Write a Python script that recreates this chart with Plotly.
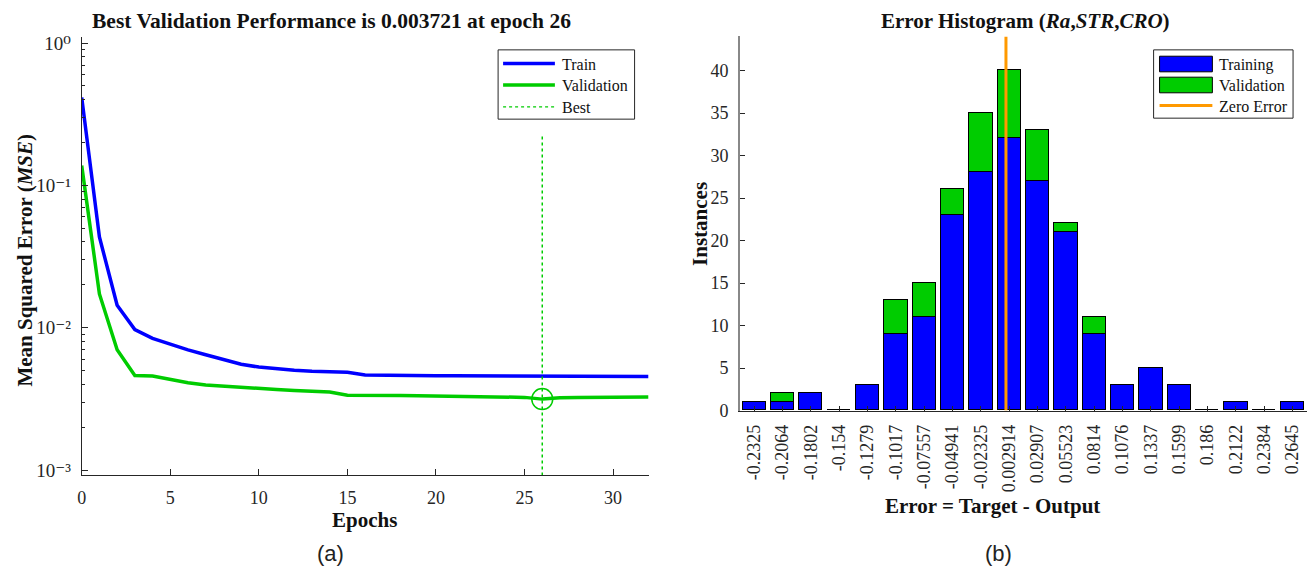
import plotly.graph_objects as go

# ---------------- data ----------------
epochs = list(range(33))
train_mse = [0.415, 0.0434, 0.01438, 0.00969, 0.00841, 0.00764, 0.00699, 0.00646,
             0.00597, 0.00554, 0.00529, 0.00512, 0.00502, 0.00494, 0.00489, 0.00486,
             0.00466, 0.00463, 0.00462, 0.00461, 0.00460, 0.00459, 0.00458, 0.00457,
             0.00457, 0.00456, 0.00456, 0.00454, 0.00454, 0.00454, 0.00454, 0.00454,
             0.00454]
val_mse = [0.1377, 0.01726, 0.00699, 0.00462, 0.00457, 0.00431, 0.00411, 0.00396,
           0.00388, 0.00378, 0.00374, 0.00368, 0.00362, 0.00359, 0.00353, 0.00335,
           0.00336, 0.00335, 0.00334, 0.00333, 0.00331, 0.00330, 0.00329, 0.00327,
           0.00325, 0.00324, 0.00315, 0.00322, 0.00324, 0.00325, 0.00326, 0.00326,
           0.00326]
best_epoch = 26
best_text = "0.003721"

mse_tickvals = [1e-3, 1e-2, 1e-1, 1]
mse_ticktext = ["10\u207b\u00b3", "10\u207b\u00b2", "10\u207b\u00b9", "10\u2070"]

bin_labels = ["-0.2325", "-0.2064", "-0.1802", "-0.154", "-0.1279", "-0.1017",
              "-0.07557", "-0.04941", "-0.02325", "0.002914", "0.02907", "0.05523",
              "0.0814", "0.1076", "0.1337", "0.1599", "0.186", "0.2122", "0.2384",
              "0.2645"]
train_counts = [1, 1, 2, 0, 3, 9, 11, 23, 28, 32, 27, 21, 9, 3, 5, 3, 0, 1, 0, 1]
val_counts = [0, 1, 0, 0, 0, 4, 4, 3, 7, 8, 6, 1, 2, 0, 0, 0, 0, 0, 0, 0]

# ---------------- styling ----------------
W, H = 1309, 579
BLUE = "#0000FF"
GREEN = "#00CC00"
ORANGE = "#FF9900"
AX = "#262626"
SERIF = "Liberation Serif, DejaVu Serif, Times New Roman, serif"
SANS = "Liberation Sans, Arial, sans-serif"


def px(x):
    return x / W


def py(y):
    return 1 - y / H


def ital(s, size):
    return '<span style="font-style:italic;font-size:%dpx">%s</span>' % (size, s)


bin_centers = [float(s) for s in bin_labels]
bin_w = (bin_centers[-1] - bin_centers[0]) / (len(bin_centers) - 1)

fig = go.Figure()

# ---------------- (a) performance curves ----------------
fig.add_trace(go.Scatter(x=epochs, y=train_mse, mode="lines",
                         line=dict(color=BLUE, width=3.5), showlegend=False,
                         xaxis="x", yaxis="y"))
fig.add_trace(go.Scatter(x=epochs, y=val_mse, mode="lines",
                         line=dict(color=GREEN, width=3.5), showlegend=False,
                         xaxis="x", yaxis="y"))
y_lo_log, y_hi_log = -3.035, 0.041
fig.add_trace(go.Scatter(x=[best_epoch, best_epoch], y=[0.22, 10 ** y_lo_log],
                         mode="lines", line=dict(color=GREEN, width=1.5, dash="dot"),
                         showlegend=False, xaxis="x", yaxis="y"))
fig.add_trace(go.Scatter(x=[best_epoch], y=[val_mse[best_epoch]], mode="markers",
                         marker=dict(symbol="circle-open", size=21,
                                     line=dict(color=GREEN, width=1.5), color=GREEN),
                         showlegend=False, xaxis="x", yaxis="y"))

# ---------------- (b) error histogram ----------------
fig.add_trace(go.Bar(x=bin_centers, y=train_counts, width=bin_w * 0.82,
                     marker=dict(color=BLUE, line=dict(color="black", width=1)),
                     showlegend=False, xaxis="x2", yaxis="y2"))
fig.add_trace(go.Bar(x=bin_centers, y=val_counts, width=bin_w * 0.82,
                     marker=dict(color=GREEN, line=dict(color="black", width=1)),
                     showlegend=False, xaxis="x2", yaxis="y2"))
fig.add_trace(go.Scatter(x=[0, 0], y=[0, 44], mode="lines",
                         line=dict(color=ORANGE, width=3), showlegend=False,
                         xaxis="x2", yaxis="y2"))

tick_font = dict(family=SERIF, size=18, color=AX)
minor_vals = [k * 10 ** e for e in (-3, -2, -1) for k in range(2, 10)]

fig.update_layout(
    width=W, height=H,
    margin=dict(l=0, r=0, t=0, b=0),
    paper_bgcolor="white", plot_bgcolor="white",
    barmode="stack", bargap=0,
    xaxis=dict(domain=[px(77), px(646)], range=[0, 32], tickvals=[0, 5, 10, 15, 20, 25, 30],
               ticks="inside", ticklen=6, tickcolor=AX, showline=True, linecolor=AX,
               linewidth=1, showgrid=False, zeroline=False, tickfont=tick_font,
               anchor="y", ticklabelstandoff=6),
    yaxis=dict(domain=[py(482.7), py(34)], type="log", range=[y_lo_log, y_hi_log],
               tickvals=mse_tickvals, ticktext=mse_ticktext,
               ticks="inside", ticklen=6, tickcolor=AX, showline=True, linecolor=AX,
               linewidth=1, showgrid=False, zeroline=False,
               tickfont=dict(family=SERIF, size=19, color=AX),
               minor=dict(tickvals=minor_vals, ticks="inside", ticklen=3, tickcolor=AX,
                          showgrid=False),
               anchor="x", ticklabelstandoff=6),
    xaxis2=dict(domain=[px(737.7), px(1306.7)],
                range=[bin_centers[0] - bin_w / 2, bin_centers[-1] + bin_w / 2],
                tickvals=bin_centers, ticktext=bin_labels, tickangle=-90,
                ticks="inside", ticklen=5, tickcolor=AX, showline=True, linecolor=AX,
                linewidth=1, showgrid=False, zeroline=False, tickfont=tick_font,
                anchor="y2", ticklabelstandoff=6),
    yaxis2=dict(domain=[py(416.7), py(33.3)], range=[0, 44], tickvals=list(range(0, 45, 5)),
                ticks="inside", ticklen=5, tickcolor=AX, showline=True, linecolor="#888888",
                linewidth=1.5, showgrid=False, zeroline=False, tickfont=tick_font,
                anchor="x2", ticklabelstandoff=6),
)

ann = []
shapes = []


def text(x, y, s, size, bold=False, font=SERIF, angle=0, xanchor="center", color="#111111"):
    ann.append(dict(x=px(x), y=py(y), xref="paper", yref="paper", text=s,
                    showarrow=False, textangle=angle, xanchor=xanchor, yanchor="middle",
                    font=dict(family=font, size=size, color=color,
                              weight="bold" if bold else "normal")))


def box(x0, y0, x1, y1, fill, edge, width=1):
    shapes.append(dict(type="rect", xref="paper", yref="paper",
                       x0=px(x0), x1=px(x1), y0=py(y1), y1=py(y0),
                       line=dict(color=edge, width=width), fillcolor=fill))


def seg(x0, x1, y, color, width, dash="solid"):
    shapes.append(dict(type="line", xref="paper", yref="paper",
                       x0=px(x0), x1=px(x1), y0=py(y), y1=py(y),
                       line=dict(color=color, width=width, dash=dash)))


# titles and axis labels
text(328, 17, "Best Validation Performance is " + best_text + " at epoch " + str(best_epoch), 21.5, True)
text(361, 529, "Epochs", 21, True)
text(20, 262, "Mean Squared Error (" + ital("MSE", 21) + ")", 21, True, angle=-90)
text(1024, 17, "Error Histogram (" + ital("Ra", 21) + "," + ital("STR", 21) + ","
     + ital("CRO", 21) + ")", 21, True)
text(991, 514, "Error = Target - Output", 21, True)
text(697, 225, "Instances", 21, True, angle=-90)
text(327, 563, "(a)", 22, font=SANS, color="#222222")
text(997, 563, "(b)", 22, font=SANS, color="#222222")

# legend for (a)
box(495, 47, 632, 118, "white", AX)
seg(500, 552, 61, BLUE, 3.5)
seg(500, 552, 83, GREEN, 3.5)
seg(500, 552, 105.5, GREEN, 1.2, "dot")
text(557, 62, "Train", 16, xanchor="left")
text(557, 84, "Validation", 16, xanchor="left")
text(557, 106, "Best", 16, xanchor="left")

# legend for (b)
box(1153, 47, 1293, 117, "white", AX)
box(1159, 53.5, 1212, 69.5, BLUE, "black")
box(1159, 75, 1212, 91, GREEN, "black")
seg(1159, 1212, 104, ORANGE, 3)
text(1217, 63, "Training", 16, xanchor="left")
text(1217, 84, "Validation", 16, xanchor="left")
text(1217, 105, "Zero Error", 16, xanchor="left")

fig.update_layout(annotations=ann, shapes=shapes)
fig.write_html("out.html")
